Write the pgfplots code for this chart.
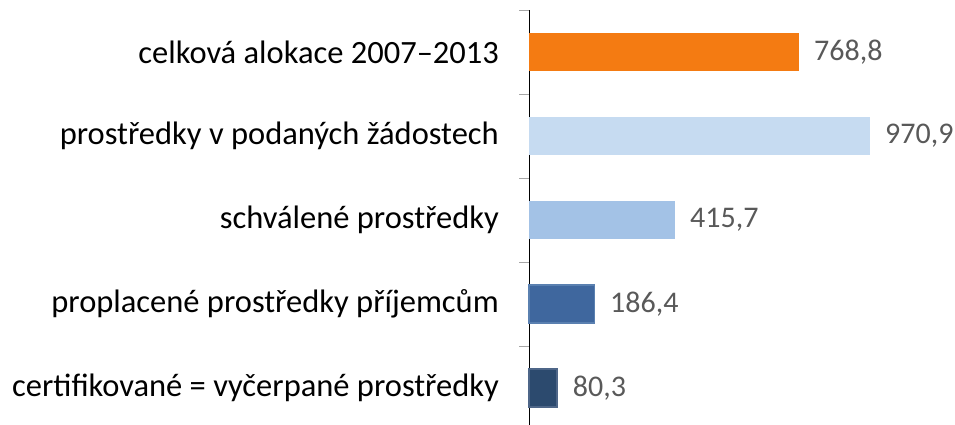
\documentclass[border=0pt]{standalone}
\usepackage{pgfplots}
\pgfplotsset{compat=1.18}
\usepackage{fontspec}
\setmainfont{Carlito}
\definecolor{cOr}{HTML}{F47B12}
\definecolor{cL1}{HTML}{C6DBF1}
\definecolor{cL2}{HTML}{A3C2E6}
\definecolor{cD1}{HTML}{3F679E}
\definecolor{cD1e}{HTML}{5A80B0}
\definecolor{cD2}{HTML}{2C4A6E}
\definecolor{cD2e}{HTML}{4E6688}
\definecolor{valgray}{HTML}{595959}
\begin{document}
\begin{tikzpicture}
\path[use as bounding box] (0,0) rectangle (955pt,425pt);
\begin{axis}[
  at={(529pt,-5pt)}, anchor=south west,
  scale only axis, width=426pt, height=420pt,
  xmin=0, xmax=1213,
  ymin=-0.5, ymax=4.5, y dir=reverse,
  axis lines*=left, axis x line=none,
  axis line style={black, line width=1pt},
  ytick={0,1,2,3,4},
  yticklabels={celková alokace 2007–2013, prostředky v podaných žádostech, schválené prostředky, proplacené prostředky příjemcům, certifikované = vyčerpané prostředky},
  major tick length=0pt,
  minor ytick={-0.5,0.5,1.5,2.5,3.5,4.5},
  minor tick length=10pt,
  tick align=outside,
  minor tick style={gray!70, line width=1pt},
  yticklabel style={font=\fontsize{32.5}{36}\selectfont, anchor=east, inner sep=0pt, xshift=-30pt},
  xbar, bar width=38pt, bar shift=0pt,
  nodes near coords,
  nodes near coords style={font=\fontsize{30}{34}\selectfont, text=valgray, anchor=west, inner sep=0pt, xshift=15pt,
    /pgf/number format/.cd, fixed, fixed zerofill, precision=1, use comma, assume math mode=true},
  clip=false,
]
\addplot[fill=cOr, draw=none] coordinates {(768.8,0)};
\addplot[fill=cL1, draw=none] coordinates {(970.9,1)};
\addplot[fill=cL2, draw=none] coordinates {(415.7,2)};
\addplot[fill=cD1, draw=cD1e, line width=1.5pt] coordinates {(186.4,3)};
\addplot[fill=cD2, draw=cD2e, line width=1.5pt] coordinates {(80.3,4)};
\end{axis}
\end{tikzpicture}
\end{document}
